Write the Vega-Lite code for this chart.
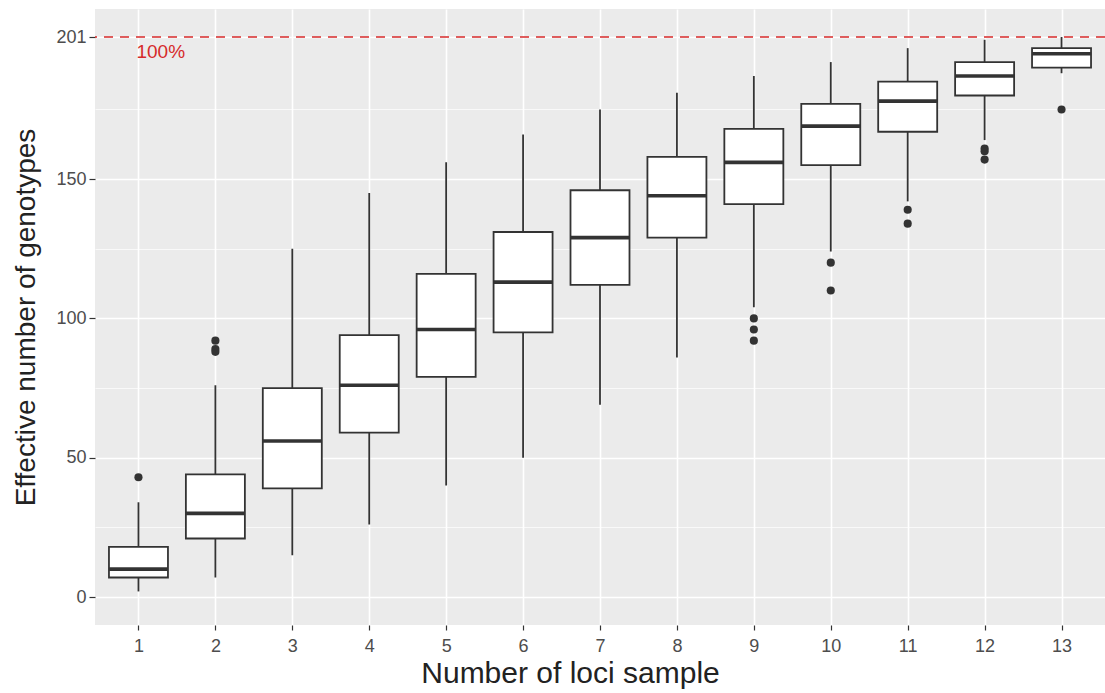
{
  "$schema": "https://vega.github.io/schema/vega-lite/v6.json",
  "autosize": "none",
  "width": 1010,
  "height": 616,
  "padding": {"left": 95, "top": 9, "right": 0, "bottom": 68},
  "background": "white",
  "view": {"fill": "#EBEBEB", "stroke": null},
  "config": {
    "font": "Liberation Sans",
    "axis": {
      "domain": false,
      "gridColor": "white",
      "tickColor": "#333333",
      "labelColor": "#4D4D4D",
      "labelFontSize": 18,
      "titleFontWeight": "normal",
      "titleColor": "#222222",
      "labelFont": "Liberation Sans",
      "titleFont": "Liberation Sans"
    }
  },
  "datasets": {
    "boxes": [
      {"loci": 1, "lower": 2, "q1": 7, "median": 10, "q3": 18, "upper": 34},
      {"loci": 2, "lower": 7, "q1": 21, "median": 30, "q3": 44, "upper": 76},
      {"loci": 3, "lower": 15, "q1": 39, "median": 56, "q3": 75, "upper": 125},
      {"loci": 4, "lower": 26, "q1": 59, "median": 76, "q3": 94, "upper": 145},
      {"loci": 5, "lower": 40, "q1": 79, "median": 96, "q3": 116, "upper": 156},
      {"loci": 6, "lower": 50, "q1": 95, "median": 113, "q3": 131, "upper": 166},
      {"loci": 7, "lower": 69, "q1": 112, "median": 129, "q3": 146, "upper": 175},
      {"loci": 8, "lower": 86, "q1": 129, "median": 144, "q3": 158, "upper": 181},
      {"loci": 9, "lower": 104, "q1": 141, "median": 156, "q3": 168, "upper": 187},
      {"loci": 10, "lower": 124, "q1": 155, "median": 169, "q3": 177, "upper": 192},
      {"loci": 11, "lower": 142, "q1": 167, "median": 178, "q3": 185, "upper": 197},
      {"loci": 12, "lower": 164, "q1": 180, "median": 187, "q3": 192, "upper": 200},
      {"loci": 13, "lower": 188, "q1": 190, "median": 195, "q3": 197, "upper": 201}
    ],
    "outliers": [
      {"loci": 1, "value": 43},
      {"loci": 2, "value": 92},
      {"loci": 2, "value": 89},
      {"loci": 2, "value": 88},
      {"loci": 9, "value": 100},
      {"loci": 9, "value": 96},
      {"loci": 9, "value": 92},
      {"loci": 10, "value": 120},
      {"loci": 10, "value": 110},
      {"loci": 11, "value": 139},
      {"loci": 11, "value": 134},
      {"loci": 12, "value": 161},
      {"loci": 12, "value": 160},
      {"loci": 12, "value": 157},
      {"loci": 13, "value": 175}
    ],
    "annot": [
      {"loci": 1, "value": 195.6, "label": "100%"}
    ],
    "hline": [
      {"value": 201}
    ]
  },
  "layer": [
    {
      "data": {"name": "boxes"},
      "mark": {"type": "rule", "color": "#333333", "strokeWidth": 1.8},
      "encoding": {
        "x": {
          "field": "loci", "type": "quantitative",
          "scale": {"domain": [0.5, 13.5], "nice": false, "zero": false},
          "axis": {
            "title": "Number of loci sample",
            "format": "d",
            "values": [1, 1.5, 2, 2.5, 3, 3.5, 4, 4.5, 5, 5.5, 6, 6.5, 7, 7.5, 8, 8.5, 9, 9.5, 10, 10.5, 11, 11.5, 12, 12.5, 13],
            "labelExpr": "datum.value % 1 === 0 ? format(datum.value, 'd') : ''",
            "gridWidth": {"condition": {"test": "datum.value % 1 === 0", "value": 1.6}, "value": 0.7},
            "tickOpacity": {"condition": {"test": "datum.value % 1 === 0", "value": 1}, "value": 0},
            "tickSize": 5,
            "tickWidth": 1.2,
            "labelPadding": 7,
            "titleFontSize": 30,
            "titlePadding": 3,
            "titleX": 475
          }
        },
        "y": {
          "field": "lower", "type": "quantitative",
          "scale": {"domain": [-10.05, 211.05], "nice": false, "zero": false},
          "axis": {
            "title": "Effective number of genotypes",
            "values": [0, 25, 50, 75, 100, 125, 150, 175, 201],
            "labelExpr": "(datum.value % 50 === 0 || datum.value === 201) ? datum.label : ''",
            "gridWidth": {"condition": {"test": "datum.value % 50 === 0 || datum.value === 201", "value": 1.6}, "value": 0.7},
            "tickOpacity": {"condition": {"test": "datum.value % 50 === 0 || datum.value === 201", "value": 1}, "value": 0},
            "tickSize": 6,
            "tickWidth": 1.2,
            "labelPadding": 3,
            "titleFontSize": 28,
            "titlePadding": 15
          }
        },
        "y2": {"field": "upper"}
      }
    },
    {
      "data": {"name": "boxes"},
      "mark": {"type": "bar", "size": 59, "fill": "white", "stroke": "#333333", "strokeWidth": 1.8},
      "encoding": {
        "x": {"field": "loci", "type": "quantitative"},
        "y": {"field": "q1", "type": "quantitative"},
        "y2": {"field": "q3"}
      }
    },
    {
      "data": {"name": "boxes"},
      "mark": {"type": "tick", "orient": "horizontal", "size": 59, "thickness": 3.6, "color": "#333333", "opacity": 1},
      "encoding": {
        "x": {"field": "loci", "type": "quantitative"},
        "y": {"field": "median", "type": "quantitative"}
      }
    },
    {
      "data": {"name": "outliers"},
      "mark": {"type": "point", "filled": true, "size": 66, "color": "#333333", "opacity": 1},
      "encoding": {
        "x": {"field": "loci", "type": "quantitative"},
        "y": {"field": "value", "type": "quantitative"}
      }
    },
    {
      "data": {"name": "hline"},
      "mark": {"type": "rule", "color": "#D62A2A", "strokeWidth": 1.6, "strokeDash": [9, 7]},
      "encoding": {
        "y": {"field": "value", "type": "quantitative"}
      }
    },
    {
      "data": {"name": "annot"},
      "mark": {"type": "text", "align": "left", "baseline": "middle", "fontSize": 19, "dx": -2, "color": "#D62A2A", "font": "Liberation Sans"},
      "encoding": {
        "x": {"field": "loci", "type": "quantitative"},
        "y": {"field": "value", "type": "quantitative"},
        "text": {"field": "label"}
      }
    }
  ]
}
